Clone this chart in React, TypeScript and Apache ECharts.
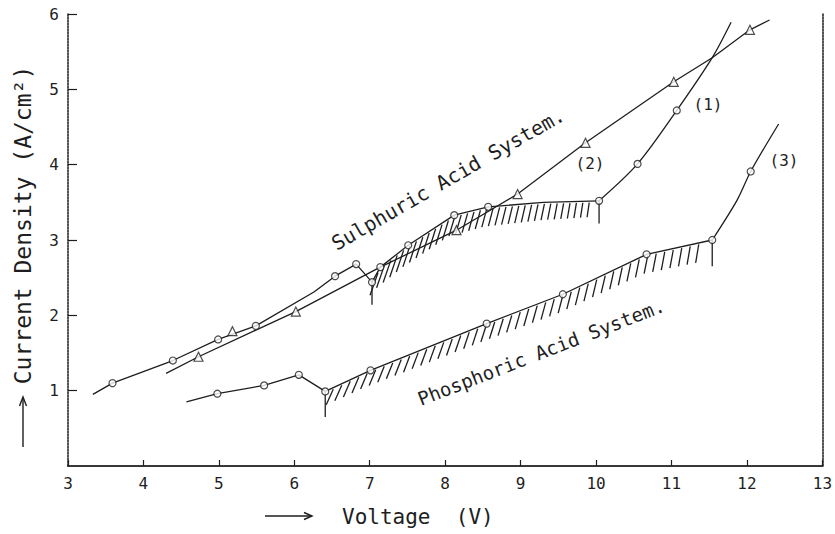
import React, { useEffect, useRef } from "react";
import * as echarts from "echarts";

// ---- data ----
// Curve (1): Sulphuric acid system (circles)
const s1aX = [3.33, 3.59, 4.39, 4.99, 5.49, 6.26, 6.54, 6.82, 7.03];
const s1aY = [0.95, 1.1, 1.4, 1.68, 1.86, 2.31, 2.52, 2.68, 2.44];
const s1bX = [7.03, 7.14, 7.51, 8.12, 8.57, 9.3, 10.04];
const s1bY = [2.44, 2.64, 2.93, 3.33, 3.44, 3.5, 3.52];
const s1cX = [10.04, 10.55, 11.07, 11.54, 11.79];
const s1cY = [3.52, 4.01, 4.72, 5.42, 5.89];
const s1CircleX = [3.59, 4.39, 4.99, 5.49, 6.54, 6.82, 7.03, 7.14, 7.51, 8.12, 8.57, 10.04, 10.55, 11.07];
const s1CircleY = [1.1, 1.4, 1.68, 1.86, 2.52, 2.68, 2.44, 2.64, 2.93, 3.33, 3.44, 3.52, 4.01, 4.72];

// Curve (2): Sulphuric acid system (triangles)
const s2X = [4.3, 4.73, 6.02, 7.12, 8.15, 8.96, 9.86, 11.03, 11.54, 12.04, 12.3];
const s2Y = [1.23, 1.45, 2.05, 2.63, 3.13, 3.61, 4.29, 5.1, 5.42, 5.79, 5.92];
const s2TriX = [4.73, 5.18, 6.02, 8.15, 8.96, 9.86, 11.03, 12.04];
const s2TriY = [1.45, 1.79, 2.05, 3.13, 3.61, 4.29, 5.1, 5.79];

// Curve (3): Phosphoric acid system (circles)
const p3aX = [4.57, 4.98, 5.6, 6.06, 6.41];
const p3aY = [0.85, 0.96, 1.07, 1.21, 0.99];
const p3bX = [6.41, 7.01, 8.55, 9.56, 10.67, 11.54];
const p3bY = [0.99, 1.27, 1.89, 2.28, 2.81, 3.0];
const p3cX = [11.54, 11.87, 12.05, 12.42];
const p3cY = [3.0, 3.53, 3.91, 4.54];
const p3CircleX = [4.98, 5.6, 6.06, 6.41, 7.01, 8.55, 9.56, 10.67, 11.54, 12.05];
const p3CircleY = [0.96, 1.07, 1.21, 0.99, 1.27, 1.89, 2.28, 2.81, 3.0, 3.91];

// vertical drop marks at the ends of the hatched bands
const spikeX = [7.03, 10.04, 6.41, 11.54];
const spikeTop = [2.44, 3.52, 0.99, 3.0];
const spikeBottom = [2.14, 3.22, 0.65, 2.65];

const INK = "#1e1e1e";
const FONT = "DejaVu Sans Mono";

const zip = (xs: number[], ys: number[]) => xs.map((x, i) => [x, ys[i]]);

type HatchOpts = { step: number; slant0: number; slant1: number; len0: number; len1: number; pad0: number; pad1: number };

function hatchRenderer(bx: number[], by: number[], o: HatchOpts) {
  return (params: any, api: any) => {
    if (params.dataIndex !== 0) return null;
    const pts = bx.map((x, i) => api.coord([x, by[i]]));
    const x0 = pts[0][0] + o.pad0;
    const x1 = pts[pts.length - 1][0] - o.pad1;
    const children: any[] = [];
    for (let px = x0; px <= x1 + 0.01; px += o.step) {
      let k = 0;
      while (k < pts.length - 2 && pts[k + 1][0] < px) k++;
      const t = (px - pts[k][0]) / (pts[k + 1][0] - pts[k][0]);
      const py = pts[k][1] + t * (pts[k + 1][1] - pts[k][1]);
      const f = (px - x0) / (x1 - x0);
      const slant = o.slant0 + f * (o.slant1 - o.slant0);
      const len = o.len0 + f * (o.len1 - o.len0);
      children.push({
        type: "line",
        shape: { x1: px, y1: py + 1.5, x2: px - slant, y2: py + len },
        style: { stroke: INK, lineWidth: 1.3 },
      });
    }
    return { type: "group", children };
  };
}

const lineSeries = (xs: number[], ys: number[], smooth: number | boolean = false) => ({
  type: "line",
  data: zip(xs, ys),
  symbol: "none",
  smooth,
  silent: true,
  z: 3,
  lineStyle: { color: INK, width: 1.3 },
});

export default function App() {
  const ref = useRef<HTMLDivElement>(null);
  useEffect(() => {
    if (!ref.current) return;
    const chart = echarts.init(ref.current, null, { renderer: "svg" });
    const frameLine = { show: true, lineStyle: { color: "#2a2a2a", width: 1.6, type: [2, 1] as any } };
    const option: any = {
      animation: false,
      backgroundColor: "#ffffff",
      textStyle: { fontFamily: FONT },
      grid: { left: 68, right: 9, top: 14, bottom: 68 },
      xAxis: [
        {
          type: "value",
          min: 3,
          max: 13,
          interval: 1,
          axisLine: frameLine,
          axisTick: { show: true, inside: true, length: 6, lineStyle: { color: INK, width: 1.2 } },
          axisLabel: { color: INK, fontSize: 16, margin: 9, fontFamily: FONT },
          splitLine: { show: false },
        },
        {
          type: "value",
          position: "top",
          min: 3,
          max: 13,
          axisLine: frameLine,
          axisTick: { show: false },
          axisLabel: { show: false },
          splitLine: { show: false },
        },
      ],
      yAxis: [
        {
          type: "value",
          min: 0,
          max: 6,
          interval: 1,
          axisLine: frameLine,
          axisTick: { show: true, inside: true, length: 9, lineStyle: { color: INK, width: 1.2 } },
          axisLabel: { color: INK, fontSize: 16, margin: 9, fontFamily: FONT, showMinLabel: false },
          splitLine: { show: false },
        },
        {
          type: "value",
          position: "right",
          min: 0,
          max: 6,
          axisLine: frameLine,
          axisTick: { show: false },
          axisLabel: { show: false },
          splitLine: { show: false },
        },
      ],
      series: [
        {
          type: "custom",
          data: zip(s1bX, s1bY),
          renderItem: hatchRenderer(s1bX, s1bY, { step: 6.4, slant0: 8, slant1: 2, len0: 24, len1: 16, pad0: 6, pad1: 5 }),
          silent: true,
          z: 2,
        },
        {
          type: "custom",
          data: zip(p3bX, p3bY),
          renderItem: hatchRenderer(p3bX, p3bY, { step: 8.5, slant0: 7, slant1: 3, len0: 17, len1: 20, pad0: 8, pad1: 6 }),
          silent: true,
          z: 2,
        },
        lineSeries(s1aX, s1aY),
        lineSeries(s1bX, s1bY),
        lineSeries(s1cX, s1cY, 0.3),
        lineSeries(s2X, s2Y),
        lineSeries(p3aX, p3aY),
        lineSeries(p3bX, p3bY),
        lineSeries(p3cX, p3cY, 0.3),
        ...spikeX.map((x, i) => lineSeries([x, x], [spikeTop[i], spikeBottom[i]])),
        {
          type: "scatter",
          data: zip(s1CircleX, s1CircleY),
          symbol: "circle",
          symbolSize: 7,
          silent: true,
          z: 5,
          itemStyle: { color: "#ffffff", borderColor: INK, borderWidth: 1.2 },
        },
        {
          type: "scatter",
          data: zip(p3CircleX, p3CircleY),
          symbol: "circle",
          symbolSize: 7,
          silent: true,
          z: 5,
          itemStyle: { color: "#ffffff", borderColor: INK, borderWidth: 1.2 },
        },
        {
          type: "scatter",
          data: zip(s2TriX, s2TriY),
          symbol: "triangle",
          symbolSize: 9,
          silent: true,
          z: 5,
          itemStyle: { color: "#ffffff", borderColor: INK, borderWidth: 1.2 },
        },
      ],
      graphic: [
        {
          type: "text",
          x: 448,
          y: 179,
          rotation: (29.9 * Math.PI) / 180,
          style: { text: "Sulphuric Acid System.", fontSize: 20, fontFamily: FONT, fill: INK, textAlign: "center", textVerticalAlign: "middle" },
        },
        {
          type: "text",
          x: 541,
          y: 352,
          rotation: (21.2 * Math.PI) / 180,
          style: { text: "Phosphoric Acid System.", fontSize: 19, fontFamily: FONT, fill: INK, textAlign: "center", textVerticalAlign: "middle" },
        },
        { type: "text", x: 708, y: 104, style: { text: "(1)", fontSize: 16, fontFamily: FONT, fill: INK, textAlign: "center", textVerticalAlign: "middle" } },
        { type: "text", x: 590, y: 163, style: { text: "(2)", fontSize: 16, fontFamily: FONT, fill: INK, textAlign: "center", textVerticalAlign: "middle" } },
        { type: "text", x: 784, y: 160, style: { text: "(3)", fontSize: 16, fontFamily: FONT, fill: INK, textAlign: "center", textVerticalAlign: "middle" } },
        {
          type: "text",
          x: 23,
          y: 225,
          rotation: Math.PI / 2,
          style: { text: "Current Density (A/cm²)", fontSize: 23, fontFamily: FONT, fill: INK, textAlign: "center", textVerticalAlign: "middle" },
        },
        { type: "line", shape: { x1: 23, y1: 447, x2: 23, y2: 398 }, style: { stroke: INK, lineWidth: 1.4 } },
        { type: "polyline", shape: { points: [[19.5, 406], [23, 397], [26.5, 406]] }, style: { stroke: INK, lineWidth: 1.4, fill: null } },
        {
          type: "text",
          x: 342,
          y: 517,
          style: { text: "Voltage  (V)", fontSize: 21, fontFamily: FONT, fill: INK, textAlign: "left", textVerticalAlign: "middle" },
        },
        { type: "line", shape: { x1: 265, y1: 516, x2: 312, y2: 516 }, style: { stroke: INK, lineWidth: 1.4 } },
        { type: "polyline", shape: { points: [[304, 512.5], [312, 516], [304, 519.5]] }, style: { stroke: INK, lineWidth: 1.4, fill: null } },
      ],
    };
    chart.setOption(option);
    return () => chart.dispose();
  }, []);
  return <div ref={ref} style={{ position: "fixed", left: 0, top: 0, width: 835, height: 534, background: "#fff" }} />;
}
